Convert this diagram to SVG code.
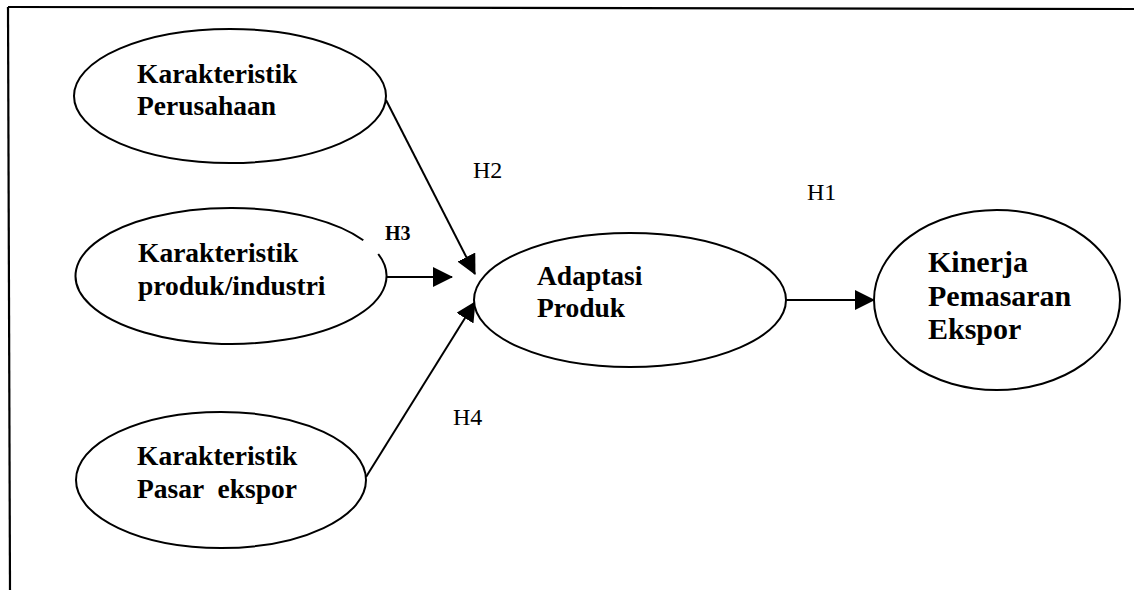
<svg xmlns="http://www.w3.org/2000/svg" width="1134" height="590" viewBox="0 0 1134 590">
  <style>
    .node { fill: #ffffff; stroke: #000000; stroke-width: 2; }
    .lbl { font-family: "Liberation Serif", "Times New Roman", serif; font-weight: bold; font-size: 27.5px; fill: #000000; }
    .big { font-size: 30px; }
    .hyp { font-family: "Liberation Serif", "Times New Roman", serif; font-size: 24px; fill: #000000; }
    .conn { stroke: #000000; stroke-width: 2; fill: none; }
    .frame { stroke: #000000; stroke-width: 2.2; fill: none; }
  </style>
  <defs>
    <marker id="arrow" viewBox="0 0 20 20" refX="19" refY="10" markerWidth="20" markerHeight="20" markerUnits="userSpaceOnUse" orient="auto">
      <path d="M0,0 L20,10 L0,20 z" fill="#000000"/>
    </marker>
  </defs>
  <rect x="0" y="0" width="1134" height="590" fill="#ffffff"/>

  <g id="frame">
    <line class="frame" x1="8" y1="7" x2="1134" y2="9"/>
    <line class="frame" x1="8" y1="7" x2="10" y2="590"/>
  </g>

  <g id="connectors">
    <line class="conn" x1="386" y1="100" x2="475" y2="274" marker-end="url(#arrow)"/>
    <line class="conn" x1="387" y1="277" x2="452" y2="277" marker-end="url(#arrow)"/>
    <line class="conn" x1="366" y1="477" x2="475" y2="302" marker-end="url(#arrow)"/>
    <line class="conn" x1="786" y1="300" x2="874" y2="300" marker-end="url(#arrow)"/>
    <text class="hyp" x="473" y="178">H2</text>
    <text class="hyp" x="385" y="240" style="font-size:20px;font-weight:bold">H3</text>
    <text class="hyp" x="453" y="425">H4</text>
    <text class="hyp" x="807" y="200">H1</text>
  </g>

  <g id="node-perusahaan">
    <ellipse class="node" cx="230" cy="96" rx="156" ry="67"/>
    <text class="lbl" x="137" y="83">Karakteristik</text>
    <text class="lbl" x="137" y="115">Perusahaan</text>
  </g>

  <g id="node-produk-industri">
    <path class="node" d="M 378.2 254 A 155.5 68 0 1 1 363.3 240.2"/>
    <text class="lbl" x="138" y="262">Karakteristik</text>
    <text class="lbl" x="138" y="295">produk/industri</text>
  </g>

  <g id="node-pasar-ekspor">
    <ellipse class="node" cx="221" cy="480" rx="145" ry="68"/>
    <text class="lbl" x="137" y="465">Karakteristik</text>
    <text class="lbl" x="137" y="498" xml:space="preserve">Pasar  ekspor</text>
  </g>

  <g id="node-adaptasi">
    <ellipse class="node" cx="630" cy="300" rx="156" ry="67"/>
    <text class="lbl" x="537" y="285">Adaptasi</text>
    <text class="lbl" x="537" y="317">Produk</text>
  </g>

  <g id="node-kinerja">
    <ellipse class="node" cx="997" cy="300" rx="123" ry="90"/>
    <text class="lbl big" x="928" y="272">Kinerja</text>
    <text class="lbl big" x="928" y="306">Pemasaran</text>
    <text class="lbl big" x="928" y="339">Ekspor</text>
  </g>
</svg>
